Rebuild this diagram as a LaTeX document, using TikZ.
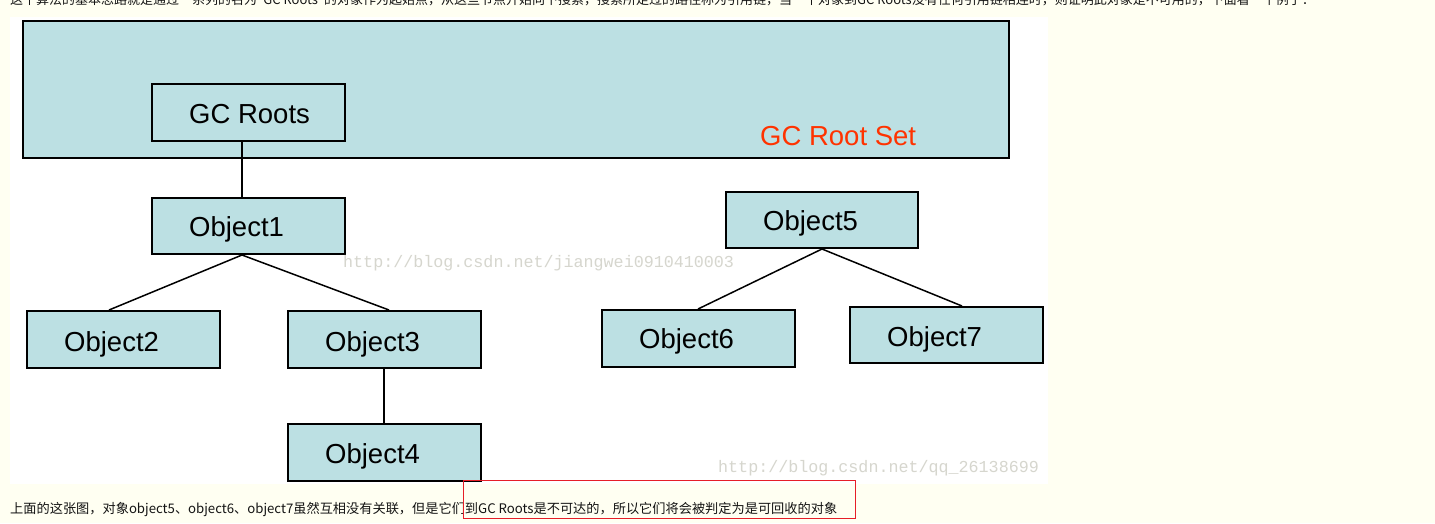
\documentclass[tikz,border=0pt]{standalone}
\usepackage{fontspec}
\setmainfont{Liberation Sans}
\newfontfamily\cjk{Noto Sans CJK SC}
\newfontfamily\wmfont{Liberation Mono}
\definecolor{boxfill}{RGB}{188,224,227}
\definecolor{pagebg}{RGB}{255,255,242}
\definecolor{rootred}{RGB}{255,51,0}
\definecolor{wmgray}{RGB}{214,214,206}
\definecolor{boxred}{RGB}{230,30,40}
\definecolor{bodytext}{RGB}{20,20,20}
\begin{document}
\begin{tikzpicture}[x=1pt,y=-1pt,
  objbox/.style={draw=black, line width=2pt, fill=boxfill, minimum width=193pt, minimum height=57pt, inner sep=0pt},
  lbl/.style={font=\fontsize{27.5}{30}\selectfont, anchor=base west, inner sep=0pt},
  conn/.style={line width=1.5pt},
  wm/.style={font=\wmfont\fontsize{16.7}{18}\selectfont, text=wmgray, anchor=base west, inner sep=0pt},
  cjktext/.style={font=\cjk\fontsize{13.2}{15}\selectfont, text=bodytext, anchor=base west, inner sep=0pt}]
\useasboundingbox (0,0) rectangle (1435,523);
\clip (0,0) rectangle (1435,523);
\fill[pagebg] (0,0) rectangle (1435,523);
\fill[white] (10,17) rectangle (1048,484);

% top line of article text (cut off at the top edge, as in the reference)
\node[cjktext, font=\cjk\fontsize{13}{15}\selectfont] (toptext) at (10,4.5) {这个算法的基本思路就是通过一系列的名为"GC Roots"的对象作为起始点，从这些节点开始向下搜索，搜索所走过的路径称为引用链，当一个对象到GC Roots没有任何引用链相连时，则证明此对象是不可用的，下面看一个例子：};

% root set
\node[draw=black, line width=2.2pt, fill=boxfill, minimum width=986pt, minimum height=137pt, inner sep=0pt] (rootset) at (516,89.5) {};
\node[lbl, text=rootred] (rootsetl) at (760,145) {GC Root Set};

% boxes
\node[objbox] (gcr) at (248.5,112.5) {};
\node[objbox, minimum height=56pt] (o1) at (248.5,226) {};
\node[objbox] (o2) at (123.5,339.5) {};
\node[objbox] (o3) at (384.5,339.5) {};
\node[objbox] (o4) at (384.5,452.5) {};
\node[objbox, minimum width=192pt, minimum height=56pt] (o5) at (822,220) {};
\node[objbox] (o6) at (698.5,338.5) {};
\node[objbox, minimum height=56pt] (o7) at (946.5,335) {};

% labels
\node[lbl] (gcrl) at (189,123) {GC Roots};
\node[lbl] (o1l) at (189,236) {Object1};
\node[lbl] (o2l) at (64,351) {Object2};
\node[lbl] (o3l) at (325,351) {Object3};
\node[lbl] (o4l) at (325,463) {Object4};
\node[lbl] (o5l) at (763,230) {Object5};
\node[lbl] (o6l) at (639,348) {Object6};
\node[lbl] (o7l) at (887,346) {Object7};

% connectors
\draw[conn] ([xshift=-6.5pt]gcr.south) -- ([xshift=-6.5pt]o1.north);
\draw[conn] ([xshift=-6.5pt]o1.south) -- ([xshift=-14.5pt]o2.north);
\draw[conn] ([xshift=-6.5pt]o1.south) -- ([xshift=4.5pt]o3.north);
\draw[conn] ([xshift=-0.5pt]o3.south) -- ([xshift=-0.5pt]o4.north);
\draw[conn] (o5.south) -- ([xshift=-0.5pt]o6.north);
\draw[conn] (o5.south) -- ([xshift=15.5pt]o7.north);

% watermarks
\node[wm] (wm1) at (343,267) {http://blog.csdn.net/jiangwei0910410003};
\node[wm] (wm2) at (718,472) {http://blog.csdn.net/qq\_26138699};

% bottom text and red frame
\node[cjktext] (bottomtext) at (10,513) {上面的这张图，对象object5、object6、object7虽然互相没有关联，但是它们到GC Roots是不可达的，所以它们将会被判定为是可回收的对象};
\draw[boxred, line width=1pt] (463,480) rectangle (855,518);
\end{tikzpicture}
\end{document}
